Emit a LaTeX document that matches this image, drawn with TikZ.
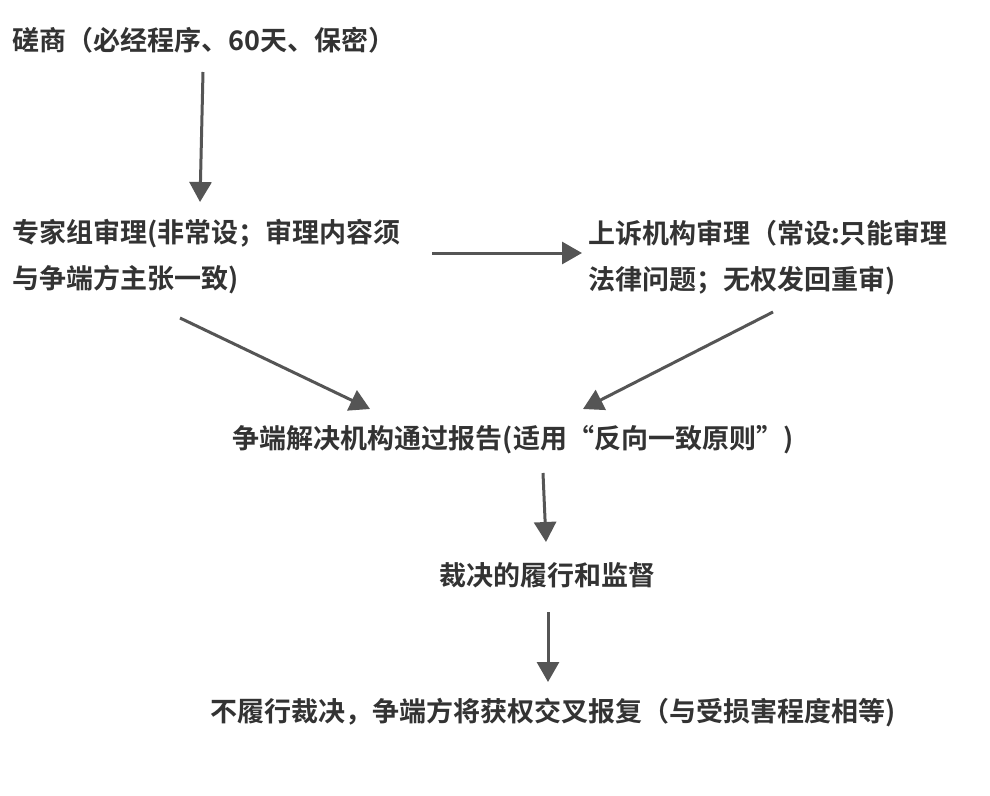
\documentclass[tikz,border=0pt]{standalone}
\usepackage{fontspec}
\newfontfamily\cjk{Noto Sans CJK SC Bold}
\usetikzlibrary{arrows.meta}
\definecolor{txt}{HTML}{333333}
\definecolor{arr}{HTML}{555555}
\begin{document}
\begin{tikzpicture}[x=1pt,y=-1pt,
  lbl/.style={inner sep=0pt,text=txt,font=\cjk\fontsize{27}{46}\selectfont,align=left},
  conn/.style={draw=arr,line width=3pt,-{Triangle[length=20pt,width=22pt]}}]
\useasboundingbox[fill=white] (0,0) rectangle (990,795);
\node[lbl,anchor=west] (t1) at (12,40) {磋商（必经程序、60天、保密）};
\node[lbl,anchor=north west] (t2) at (12,219) {专家组审理(非常设；审理内容须\\与争端方主张一致)};
\node[lbl,anchor=north west] (t3) at (588,220) {上诉机构审理（常设:只能审理\\法律问题；无权发回重审)};
\node[lbl] (t4) at (513,440) {争端解决机构通过报告(适用“反向一致原则”)};
\node[lbl] (t5) at (547,575) {裁决的履行和监督};
\node[lbl] (t6) at (553,713) {不履行裁决，争端方将获权交叉报复（与受损害程度相等)};
\coordinate (a1s) at (203,72); \coordinate (a1e) at (200,202);
\coordinate (a2s) at (432,253); \coordinate (a2e) at (582,253);
\coordinate (a3s) at (180,318); \coordinate (a3e) at (370,409);
\coordinate (a4s) at (773,312); \coordinate (a4e) at (583,409);
\coordinate (a5s) at (543,473); \coordinate (a5e) at (546,542);
\coordinate (a6s) at (548,612); \coordinate (a6e) at (548,682);
\draw[conn] (a1s) -- (a1e);
\draw[conn] (a2s) -- (a2e);
\draw[conn] (a3s) -- (a3e);
\draw[conn] (a4s) -- (a4e);
\draw[conn] (a5s) -- (a5e);
\draw[conn] (a6s) -- (a6e);
\end{tikzpicture}
\end{document}
